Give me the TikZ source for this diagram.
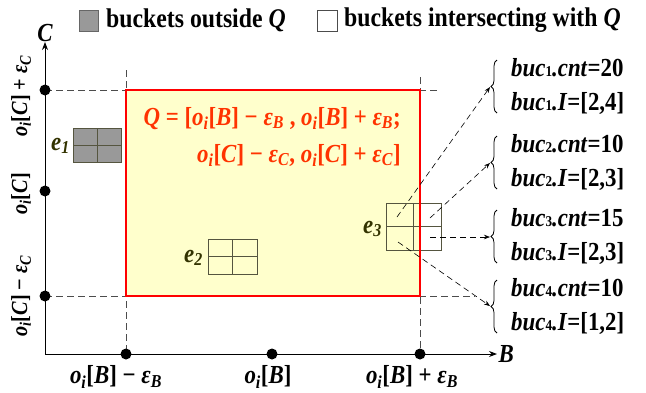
\documentclass[tikz,border=0pt]{standalone}
\usepackage{fontspec}
\setmainfont{Liberation Serif}[FakeStretch=0.88]
\usepackage{tikz}
\usetikzlibrary{
  arrows.meta,
  positioning,
  decorations.pathreplacing,
}
\definecolor{qRed}{HTML}{FF0000}
\definecolor{qText}{HTML}{FF3300}
\definecolor{qFill}{HTML}{FFFFCC}
\definecolor{cellLine}{HTML}{55553F}
\definecolor{cellGray}{HTML}{999999}
\definecolor{eLabel}{HTML}{333300}
\newcommand{\oiv}[1]{\textit{o}\textsubscript{\textit{i}}[\textit{#1}]}
\newcommand{\epsv}[1]{\textit{ε}\textsubscript{\textit{#1}}}
\newcommand{\bucv}[2]{\textit{buc}{\fontsize{15}{15}\selectfont #1}\textit{.#2}}
\tikzset{
  lbl/.style={font=\fontsize{26}{28}\selectfont\bfseries, inner sep=1pt},
  sidelbl/.style={font=\fontsize{23}{25}\selectfont\bfseries, inner sep=1pt, rotate=90},
  leglbl/.style={font=\fontsize{27}{29}\selectfont\bfseries, inner sep=0pt, anchor=west},
  buclbl/.style={font=\fontsize{26}{28}\selectfont\bfseries, inner sep=0pt, anchor=west},
  elbl/.style={font=\fontsize{26}{28}\selectfont\bfseries\itshape, text=eLabel,
    inner sep=1pt, anchor=east},
  dot/.style={circle, fill=black, inner sep=0pt, minimum size=11pt},
  guide/.style={dashed, dash pattern=on 7pt off 4pt, line width=0.6pt, draw=black!70},
  axis/.style={-{Stealth[length=8pt,width=6pt]}, line width=1pt},
  link/.style={-{Stealth[length=6pt,width=4.5pt]}, dashed,
    dash pattern=on 6pt off 4pt, line width=0.6pt},
  bucbrace/.style={decorate, decoration={brace, amplitude=6pt}, line width=0.8pt},
}
\begin{document}
\begin{tikzpicture}[x=1pt, y=-1pt]
\useasboundingbox (0,0) rectangle (646,392);

% legend
\draw[fill=cellGray, draw=black!60, line width=0.8pt] (79,10) rectangle (98,31);
\node[leglbl] (legOut) at (106,20) {buckets outside \textit{Q}};
\draw[fill=white, draw=black!70, line width=0.8pt] (317,10) rectangle (337,31);
\node[leglbl] (legIn) at (344,20) {buckets intersecting with \textit{Q}};

% query region
\draw[guide] (126,70) -- (126,354);
\draw[guide] (420,77) -- (420,354);
\draw[guide] (45,90) -- (440,90);
\draw[guide] (45,296) -- (475,296);
\fill[qFill] (126,90) rectangle (420,296);

% buckets
\foreach \name/\x/\y/\w/\h in {e1/73/128/48/34, e2/208/239/49/35, e3/386/203/55/47}
{
  \coordinate (\name nw) at (\x,\y);
  \coordinate (\name se) at (\x+\w,\y+\h);
  \coordinate (\name c) at (\x+\w/2,\y+\h/2);
}
\fill[cellGray] (e1nw) rectangle (e1se);
\fill[white] (e3nw -| 420,0) rectangle (e3se);
\foreach \name in {e1,e2,e3}
{
  \draw[cellLine, line width=0.9pt] (\name nw) rectangle (\name se);
  \draw[cellLine, line width=0.9pt] (\name nw -| \name c) -- (\name se -| \name c);
  \draw[cellLine, line width=0.9pt] (\name nw |- \name c) -- (\name se |- \name c);
}
\node[elbl] (e1) at (71,146) {e\textsubscript{1}};
\node[elbl] (e2) at (204,258) {e\textsubscript{2}};
\node[elbl] (e3) at (383,229) {e\textsubscript{3}};

\draw[qRed, line width=2.8pt] (126,90) rectangle (420,296);

\node[lbl, text=qText, anchor=north east, align=right,
      font=\fontsize{26}{37}\selectfont\bfseries] (qdef) at (402,106)
  {\textit{Q} = [\oiv{B} − \epsv{B} , \oiv{B} + \epsv{B};\\
   \oiv{C} − \epsv{C}, \oiv{C} + \epsv{C}]};

% axes
\coordinate (O) at (45,354);
\draw[axis] (O) -- (497,354) node[lbl, anchor=west] (axB) {\textit{B}};
\draw[axis] (O) -- (45,42) node[lbl, anchor=south, inner sep=0pt] (axC) {\textit{C}};

\foreach \y/\n in {90/c1, 191/c2, 296/c3}
  \node[dot] (\n) at (45,\y) {};
\foreach \x/\n in {126/b1, 272/b2, 420/b3}
  \node[dot] (\n) at (\x,354) {};

\node[sidelbl] (lc1) at (21,96) {\oiv{C} + \epsv{C}};
\node[sidelbl] (lc2) at (21,194) {\oiv{C}};
\node[sidelbl] (lc3) at (21,296) {\oiv{C} − \epsv{C}};
\node[lbl] (lb1) at (116,377) {\oiv{B} − \epsv{B}};
\node[lbl] (lb2) at (268,377) {\oiv{B}};
\node[lbl] (lb3) at (412,377) {\oiv{B} + \epsv{B}};

% bucket details
\foreach \k/\top/\cnt/\rng in {1/60/20/{[2,4]}, 2/136/10/{[2,3]}, 3/210/15/{[2,3]}, 4/280/10/{[1,2]}}
{
  \draw[bucbrace] (497,\top+53) -- (497,\top) coordinate[pos=0.5] (br\k);
  \node[buclbl] (cnt\k) at (511,\top+8) {\bucv{\k}{cnt}=\cnt};
  \node[buclbl] (rng\k) at (511,\top+43) {\bucv{\k}{I}=\rng};
}
\coordinate (tip1) at (490,87);
\coordinate (tip2) at (490,163);
\coordinate (tip3) at (490,237);
\coordinate (tip4) at (490,306);

\draw[link] (397,217) -- (tip1);
\draw[link] (430,218) -- (tip2);
\draw[link] (430,237) -- (tip3);
\draw[link] (398,242) -- (tip4);

\end{tikzpicture}
\end{document}
